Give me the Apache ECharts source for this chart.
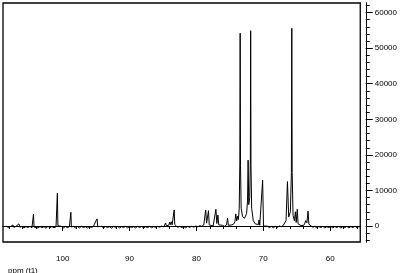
<!DOCTYPE html>
<html>
<head>
<meta charset="utf-8">
<script src="https://cdn.jsdelivr.net/npm/echarts@6/dist/echarts.min.js"></script>
<style>
html,body{margin:0;padding:0;background:#fff;}
#c{width:400px;height:273px;}
</style>
</head>
<body>
<div id="c"></div>
<script>
// Spectrum trace: [chemical shift (ppm), intensity]
const traceLeft = [
  [108.93,-200],[108.7,-500],[108.4,-100],[108.1,-450],[107.8,-150],[107.6,-300],[107.44,300],[107.3,-400],
  [107.0,-100],[106.75,-500],[106.55,600],[106.4,-350],[106.1,-100],[105.8,-550],[105.5,-150],[105.2,-450],
  [104.9,-100],[104.6,-500],[104.45,-200],[104.37,3300],[104.28,-300],[104.0,-100],[103.7,-550],[103.4,-150],
  [103.1,-450],[102.8,-200],[102.5,-600],[102.2,-100],[101.9,-450],[101.6,-150],[101.3,-500],[101.0,-200],
  [100.88,-150],[100.80,9200],[100.72,100],[100.5,-400],[100.2,-100],[99.9,-550],[99.6,-150],[99.3,-450],
  [99.0,-200],[98.85,-100],[98.78,3850],[98.7,-300],[98.4,-100],[98.1,-500],[97.8,-150],[97.5,-550],
  [97.2,-100],[96.9,-450],[96.6,-200],[96.3,-550],[96.0,-150],[95.7,-450],[95.4,-100],[95.2,100],
  [95.04,1400],[94.95,900],[94.86,2000],[94.76,-200],[94.5,-450],[94.2,-100],[93.9,-550],[93.6,-150],
  [93.3,-450],[93.0,-200],[92.7,-600],[92.4,-100],[92.1,-450],[91.8,-150],[91.5,-550],[91.2,-200],
  [90.9,-450],[90.6,-100],[90.3,-550],[90.0,-150],[89.7,-450],[89.4,-200],[89.1,-550],[88.8,-100],
  [88.5,-450],[88.2,-150],[87.9,-550],[87.6,-200],[87.3,-450],[87.0,-100],[86.7,-500],[86.4,-150],
  [86.1,-400],[85.8,-100],[85.5,-350],[85.2,0],[84.9,-250],[84.72,100]
];
const traceMiddle = [
  [84.61,850],[84.5,0],[84.25,200],[84.1,300],[84.01,1100],[83.9,400],[83.77,1200],[83.64,300],
  [83.45,500],[83.33,4500],[83.24,400],[83.05,-150],[82.8,-400],[82.5,-100],[82.2,-450],[81.9,-150],
  [81.6,-500],[81.3,-100],[81.0,-400],[80.7,-50],[80.4,-350],[80.1,0],[79.8,-250],[79.5,100],
  [79.2,-100],[78.9,300],[78.78,500],[78.62,4500],[78.48,800],[78.34,900],[78.20,4300],[78.08,300],
  [77.8,100],[77.5,0],[77.25,400],[77.09,4700],[76.95,700],[76.79,3100],[76.66,300],[76.4,0],
  [76.1,200],[75.8,-100],[75.5,300],[75.35,2200],[75.22,200],[74.95,0],[74.7,300],[74.4,600],
  [74.25,1200],[74.12,3400],[73.98,1400],[73.82,2800],[73.72,1800],[73.6,5000],[73.51,18000],[73.46,54200],
  [73.41,17000],[73.31,5000],[73.1,2600],[72.8,2200],[72.5,3500],[72.36,7000],[72.27,18500],[72.18,6000],
  [72.03,8000],[71.94,18000],[71.89,54900],[71.84,17000],[71.74,5000],[71.5,1500],[71.2,600],[70.95,200],
  [70.73,400],[70.64,1700],[70.53,200],[70.25,300],[70.10,12900],[69.97,0]
];
const traceRight = [
  [69.7,-350],[69.4,-50],[69.1,-450],[68.8,-100],[68.5,-500],[68.2,-100],[67.9,-400],[67.6,0],
  [67.3,-200],[67.0,200],[66.75,500],[66.6,1500],[66.39,12500],[66.2,2500],[65.95,4000],[65.80,15000],
  [65.74,55600],[65.68,15000],[65.55,3000],[65.35,1500],[65.20,4000],[65.08,1000],[64.92,4700],[64.8,600],
  [64.55,300],[64.35,100],[64.15,300],[63.95,200],[63.78,800],[63.66,1500],[63.48,900],[63.31,4200],
  [63.18,500],[62.9,100],[62.6,-350],[62.3,-100],[62.0,-500],[61.7,-150],[61.4,-450],[61.1,-100],
  [60.8,-550],[60.5,-200],[60.2,-450],[59.9,-100],[59.6,-550],[59.3,-150],[59.0,-450],[58.7,-100],
  [58.4,-550],[58.1,-200],[57.8,-450],[57.5,-100],[57.2,-550],[56.9,-150],[56.6,-450],[56.3,-100],
  [56.0,-450],[55.7,-150],[55.5,-300]
];
// Axis tick values
const xMajorTicks = [60, 70, 80, 90, 100];
const xMinorTicks = [56, 58, 60, 62, 64, 66, 68, 70, 72, 74, 76, 78, 80, 82, 84, 86, 88, 90, 92, 94, 96, 98, 100, 102, 104, 106, 108];
const yMajorTicks = [0, 10000, 20000, 30000, 40000, 50000, 60000];
const yMinorTicks = [-4000, -2000, 0, 2000, 4000, 6000, 8000, 10000, 12000, 14000, 16000, 18000, 20000, 22000, 24000, 26000, 28000, 30000, 32000, 34000, 36000, 38000, 40000, 42000, 44000, 46000, 48000, 50000, 52000, 54000, 56000, 58000, 60000, 62000];
const xRange = [55.5, 108.93];
const yRange = [-4500, 62700];

const data = traceLeft.concat(traceMiddle, traceRight);
const font = 'Liberation Sans, Arial, sans-serif';

const chart = echarts.init(document.getElementById('c'), null, {renderer: 'canvas'});
const xBase = {
  type: 'value', inverse: true, min: xRange[0], max: xRange[1], position: 'bottom', offset: 3,
  splitLine: {show: false},
  axisLine: {show: true, lineStyle: {color: '#000', width: 1}}
};
const yBase = {
  type: 'value', min: yRange[0], max: yRange[1], position: 'right', offset: 5.5,
  splitLine: {show: false},
  axisLine: {show: true, lineStyle: {color: '#000', width: 1}}
};
chart.setOption({
  animation: false,
  backgroundColor: '#fff',
  title: {
    text: 'ppm (t1)', left: 3, top: 262,
    textStyle: {fontSize: 8, fontWeight: 'normal', color: '#000', fontFamily: font}
  },
  grid: {left: 3, right: 37.5, top: 3, bottom: 31, show: true, borderColor: '#000', borderWidth: 1.3, backgroundColor: 'transparent'},
  xAxis: [
    Object.assign({}, xBase, {
      axisTick: {show: true, length: 5, inside: false, customValues: xMajorTicks, lineStyle: {color: '#000'}},
      axisLabel: {show: true, customValues: xMajorTicks, margin: 10, fontSize: 8, color: '#000', fontFamily: font,
                  formatter: v => String(v)}
    }),
    Object.assign({}, xBase, {
      axisTick: {show: true, length: 3, inside: false, customValues: xMinorTicks, lineStyle: {color: '#000'}},
      axisLabel: {show: false}
    })
  ],
  yAxis: [
    Object.assign({}, yBase, {
      axisTick: {show: true, length: 7, inside: false, customValues: yMajorTicks, lineStyle: {color: '#000'}},
      axisLabel: {show: true, customValues: yMajorTicks, margin: 9, fontSize: 8, color: '#000', fontFamily: font,
                  formatter: v => String(v)}
    }),
    Object.assign({}, yBase, {
      axisTick: {show: true, length: 4, inside: false, customValues: yMinorTicks, lineStyle: {color: '#000'}},
      axisLabel: {show: false}
    })
  ],
  series: [{
    type: 'line', xAxisIndex: 0, yAxisIndex: 0,
    data: data, showSymbol: false, symbol: 'none', clip: true, smooth: false,
    lineStyle: {color: '#000', width: 1},
    emphasis: {disabled: true}
  }]
});
</script>
</body>
</html>
